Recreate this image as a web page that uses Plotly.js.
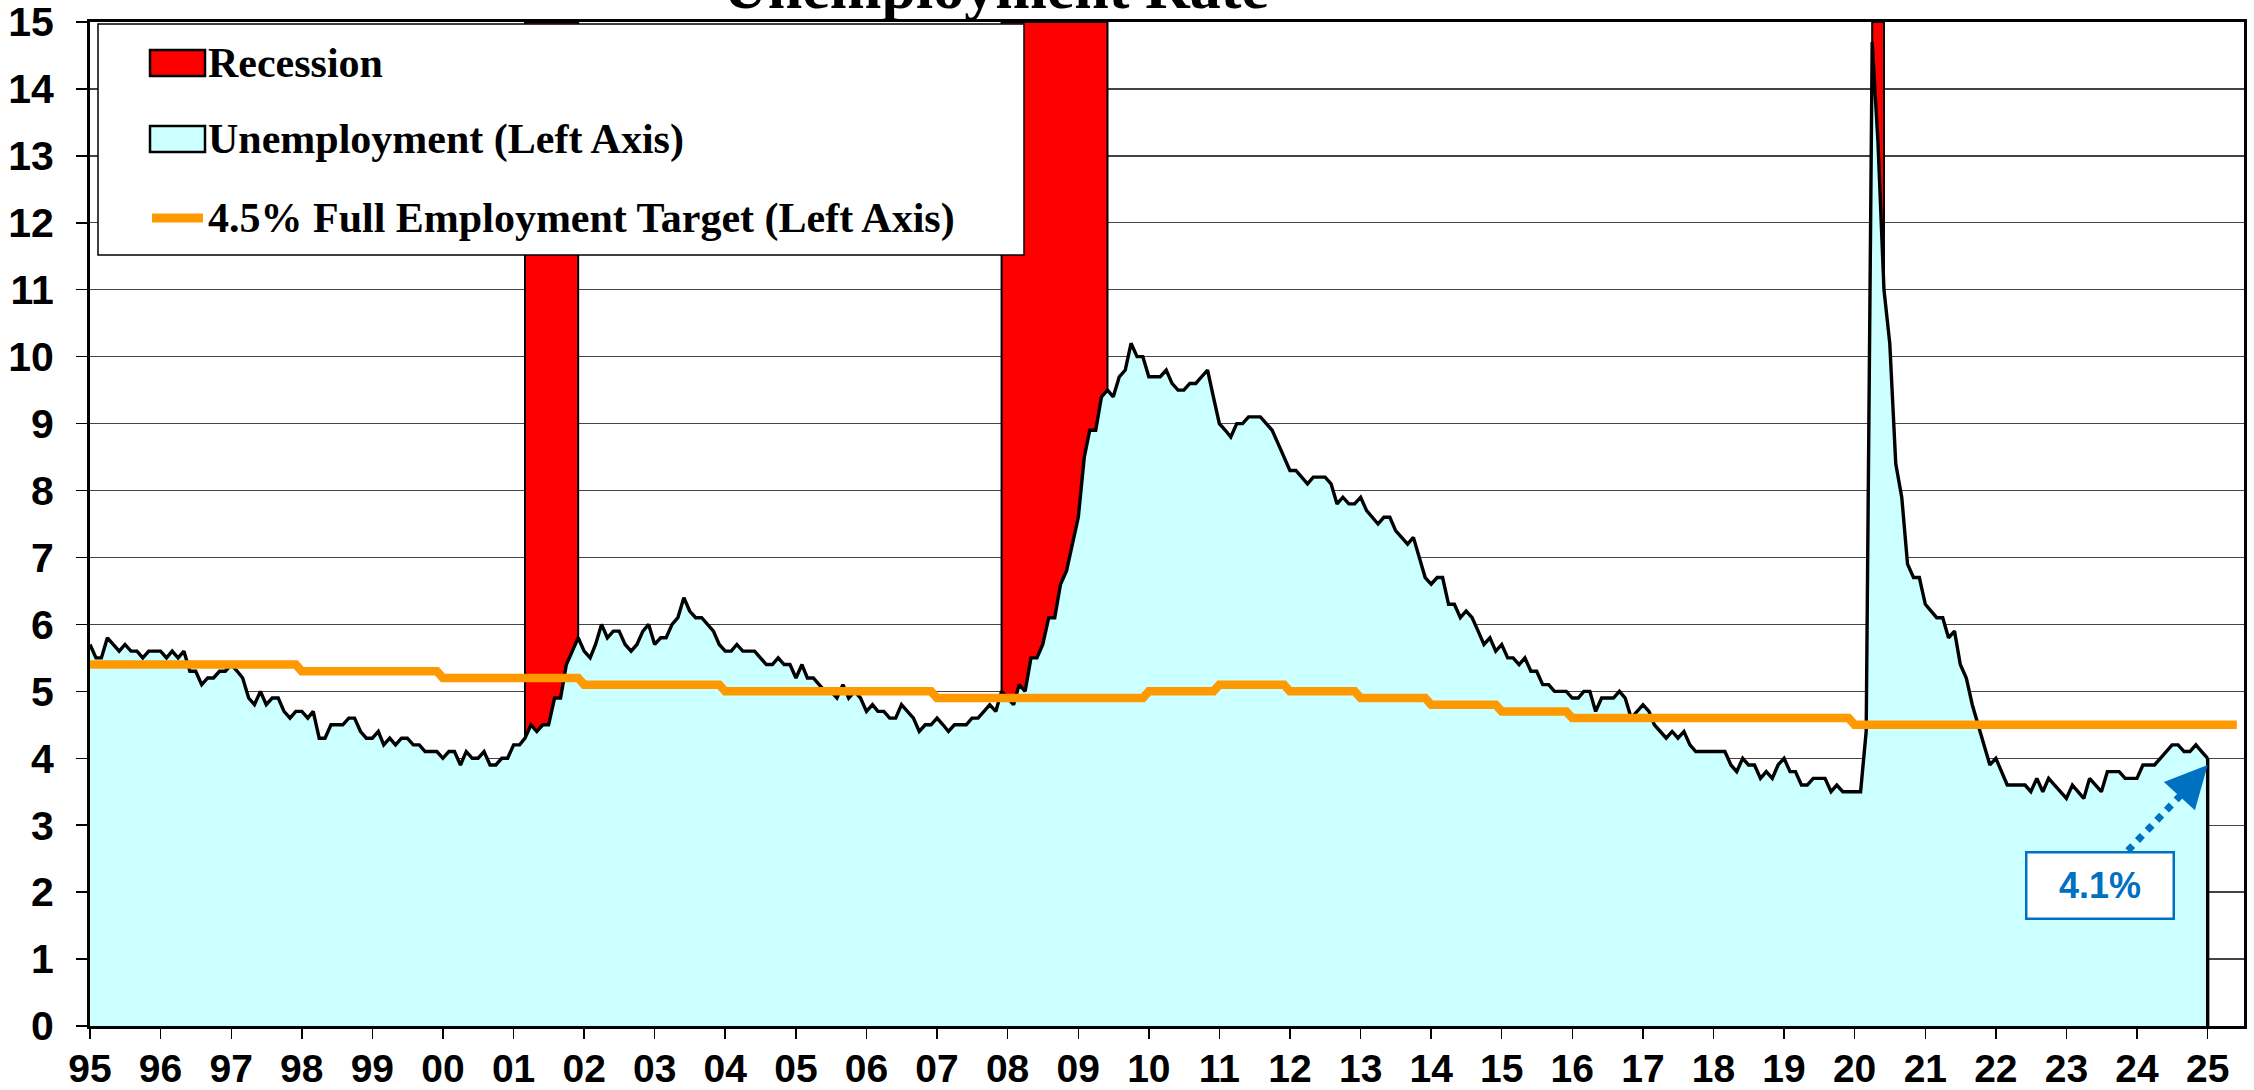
<!DOCTYPE html>
<html>
<head>
<meta charset="utf-8">
<script src="https://cdn.plot.ly/plotly-3.0.1.min.js"></script>
<style>
html,body{margin:0;padding:0;background:#ffffff;}
#chart{width:2254px;height:1090px;}
</style>
</head>
<body>
<div id="chart"></div>
<script>
// ---------------- DATA ----------------
const chartTitle = 'Unemployment Rate';
const startYear = 1995;   // first monthly observation: January 1995

// Monthly unemployment rate (%), Jan 1995 .. Jan 2025, one row per year
const unemployment = [
  5.7,5.5,5.5,5.8,5.7,5.6,5.7,5.6,5.6,5.5,5.6,5.6,   // 1995
  5.6,5.5,5.6,5.5,5.6,5.3,5.3,5.1,5.2,5.2,5.3,5.3,   // 1996
  5.4,5.3,5.2,4.9,4.8,5.0,4.8,4.9,4.9,4.7,4.6,4.7,   // 1997
  4.7,4.6,4.7,4.3,4.3,4.5,4.5,4.5,4.6,4.6,4.4,4.3,   // 1998
  4.3,4.4,4.2,4.3,4.2,4.3,4.3,4.2,4.2,4.1,4.1,4.1,   // 1999
  4.0,4.1,4.1,3.9,4.1,4.0,4.0,4.1,3.9,3.9,4.0,4.0,   // 2000
  4.2,4.2,4.3,4.5,4.4,4.5,4.5,4.9,4.9,5.4,5.6,5.8,   // 2001
  5.6,5.5,5.7,6.0,5.8,5.9,5.9,5.7,5.6,5.7,5.9,6.0,   // 2002
  5.7,5.8,5.8,6.0,6.1,6.4,6.2,6.1,6.1,6.0,5.9,5.7,   // 2003
  5.6,5.6,5.7,5.6,5.6,5.6,5.5,5.4,5.4,5.5,5.4,5.4,   // 2004
  5.2,5.4,5.2,5.2,5.1,5.0,5.0,4.9,5.1,4.9,5.0,4.9,   // 2005
  4.7,4.8,4.7,4.7,4.6,4.6,4.8,4.7,4.6,4.4,4.5,4.5,   // 2006
  4.6,4.5,4.4,4.5,4.5,4.5,4.6,4.6,4.7,4.8,4.7,5.0,   // 2007
  4.9,4.8,5.1,5.0,5.5,5.5,5.7,6.1,6.1,6.6,6.8,7.2,   // 2008
  7.6,8.5,8.9,8.9,9.4,9.5,9.4,9.7,9.8,10.2,10.0,10.0, // 2009
  9.7,9.7,9.7,9.8,9.6,9.5,9.5,9.6,9.6,9.7,9.8,9.4,   // 2010
  9.0,8.9,8.8,9.0,9.0,9.1,9.1,9.1,9.0,8.9,8.7,8.5,   // 2011
  8.3,8.3,8.2,8.1,8.2,8.2,8.2,8.1,7.8,7.9,7.8,7.8,   // 2012
  7.9,7.7,7.6,7.5,7.6,7.6,7.4,7.3,7.2,7.3,7.0,6.7,   // 2013
  6.6,6.7,6.7,6.3,6.3,6.1,6.2,6.1,5.9,5.7,5.8,5.6,   // 2014
  5.7,5.5,5.5,5.4,5.5,5.3,5.3,5.1,5.1,5.0,5.0,5.0,   // 2015
  4.9,4.9,5.0,5.0,4.7,4.9,4.9,4.9,5.0,4.9,4.6,4.7,   // 2016
  4.8,4.7,4.5,4.4,4.3,4.4,4.3,4.4,4.2,4.1,4.1,4.1,   // 2017
  4.1,4.1,4.1,3.9,3.8,4.0,3.9,3.9,3.7,3.8,3.7,3.9,   // 2018
  4.0,3.8,3.8,3.6,3.6,3.7,3.7,3.7,3.5,3.6,3.5,3.5,   // 2019
  3.5,3.5,4.4,14.7,13.2,11.0,10.2,8.4,7.9,6.9,6.7,6.7, // 2020
  6.3,6.2,6.1,6.1,5.8,5.9,5.4,5.2,4.8,4.5,4.2,3.9,   // 2021
  4.0,3.8,3.6,3.6,3.6,3.6,3.5,3.7,3.5,3.7,3.6,3.5,   // 2022
  3.4,3.6,3.5,3.4,3.7,3.6,3.5,3.8,3.8,3.8,3.7,3.7,   // 2023
  3.7,3.9,3.9,3.9,4.0,4.1,4.2,4.2,4.1,4.1,4.2,4.1,   // 2024
  4.0                                                // 2025
];

// Full-employment target (%), constant within each calendar year
const targetYears  = [1995,1996,1997,1998,1999,2000,2001,2002,2003,2004,2005,2006,2007,2008,2009,2010,
                      2011,2012,2013,2014,2015,2016,2017,2018,2019,2020,2021,2022,2023,2024,2025];
const targetValues = [5.4,5.4,5.4,5.3,5.3,5.2,5.2,5.1,5.1,5.0,5.0,5.0,4.9,4.9,4.9,5.0,
                      5.1,5.0,4.9,4.8,4.7,4.6,4.6,4.6,4.6,4.5,4.5,4.5,4.5,4.5,4.5];
const targetLastMonth = '2025-06-01';

// Recession periods
const recessionStart = ['2001-03-01','2007-12-01','2020-04-01'];
const recessionEnd   = ['2001-12-01','2009-06-01','2020-06-01'];
const recessionTop   = 15;

// x-axis ticks
const tickYears  = [1995,1996,1997,1998,1999,2000,2001,2002,2003,2004,2005,2006,2007,2008,2009,2010,
                    2011,2012,2013,2014,2015,2016,2017,2018,2019,2020,2021,2022,2023,2024,2025];
const tickLabels = ['95','96','97','98','99','00','01','02','03','04','05','06','07','08','09','10',
                    '11','12','13','14','15','16','17','18','19','20','21','22','23','24','25'];

const latestLabel = '4.1%';
const legendNames = ['Recession','Unemployment (Left Axis)','4.5% Full Employment Target (Left Axis)'];

// ---------------- BUILD ----------------
function pad2(n){ return (n < 10 ? '0' : '') + n; }
const uDates = unemployment.map((v, i) => {
  const y = startYear + Math.floor(i / 12);
  const m = (i % 12) + 1;
  return y + '-' + pad2(m) + '-01';
});

const tX = [], tY = [];
targetYears.forEach((y, k) => {
  tX.push(y + '-01-01'); tY.push(targetValues[k]);
  tX.push(k === targetYears.length - 1 ? targetLastMonth : y + '-12-01'); tY.push(targetValues[k]);
});

const recMid = [], recWidth = [], recY = [];
recessionStart.forEach((s, k) => {
  const a = Date.parse(s + 'T00:00:00Z'), b = Date.parse(recessionEnd[k] + 'T00:00:00Z');
  recMid.push(new Date((a + b) / 2).toISOString().slice(0, 19).replace('T', ' '));
  recWidth.push(b - a);
  recY.push(recessionTop);
});

const lastDate = uDates[uDates.length - 1];
const lastVal = unemployment[unemployment.length - 1];
const tickDates = tickYears.map(y => y + '-01-01');

const RED = '#FF0000', CYAN = '#CCFFFF', ORANGE = '#FF9900', BLUE = '#0070C0';

const traces = [
  {
    type: 'bar', x: recMid, y: recY, width: recWidth, name: legendNames[0],
    marker: {color: RED, line: {color: '#000000', width: 2}},
    hoverinfo: 'skip', showlegend: false
  },
  {
    type: 'scatter', mode: 'lines', x: uDates, y: unemployment, name: legendNames[1],
    fill: 'tozeroy', fillcolor: CYAN,
    line: {color: '#000000', width: 3.4}, showlegend: false
  },
  {
    type: 'scatter', mode: 'lines', x: [lastDate, lastDate], y: [lastVal, 0],
    showlegend: false, hoverinfo: 'skip',
    line: {color: '#000000', width: 3.4}
  },
  {
    type: 'scatter', mode: 'lines', x: tX, y: tY, name: legendNames[2],
    line: {color: ORANGE, width: 8.5}, showlegend: false
  }
];

const serif = 'Liberation Serif, "Times New Roman", Times, serif';
const sans = 'Liberation Sans, Arial, Helvetica, sans-serif';

// plot-area geometry (pixels) used to place the hand-drawn legend box
const PL = 90, PR = 2244, PT = 22, PB = 1026;
const px = v => (v - PL) / (PR - PL);
const py = v => (PB - v) / (PB - PT);

const legendShapes = [
  {type: 'rect', xref: 'paper', yref: 'paper', x0: px(98), x1: px(1024), y0: py(255), y1: py(24),
   fillcolor: '#ffffff', line: {color: '#000000', width: 1.5}, layer: 'above'},
  {type: 'rect', xref: 'paper', yref: 'paper', x0: px(150), x1: px(205), y0: py(76), y1: py(50),
   fillcolor: RED, line: {color: '#000000', width: 2.5}, layer: 'above'},
  {type: 'rect', xref: 'paper', yref: 'paper', x0: px(150), x1: px(205), y0: py(152), y1: py(126),
   fillcolor: CYAN, line: {color: '#000000', width: 2.5}, layer: 'above'},
  {type: 'line', xref: 'paper', yref: 'paper', x0: px(152), x1: px(203), y0: py(218), y1: py(218),
   line: {color: ORANGE, width: 9}, layer: 'above'}
];
const legendRowsY = [63, 139, 218];
const legendTexts = legendNames.map((n, k) => ({
  text: '<b>' + n + '</b>', xref: 'paper', yref: 'paper', x: px(206), y: py(legendRowsY[k]),
  xanchor: 'left', yanchor: 'middle', showarrow: false,
  font: {family: serif, size: 42, color: '#000000'}
}));

const layout = {
  width: 2254, height: 1090,
  margin: {l: PL, r: 2254 - PR, t: PT, b: 1090 - PB, pad: 0},
  paper_bgcolor: '#ffffff', plot_bgcolor: '#ffffff',
  bargap: 0,
  showlegend: false,
  xaxis: {
    type: 'date', range: ['1995-01-01', '2025-07-08'],
    tickmode: 'array', tickvals: tickDates, ticktext: tickLabels,
    ticks: 'outside', ticklen: 10, tickwidth: 1.5, tickcolor: '#000000',
    showline: true, linecolor: '#000000', linewidth: 3, mirror: true,
    showgrid: false, zeroline: false,
    tickfont: {family: sans, size: 39, color: '#000000', weight: 'bold'},
    ticklabelstandoff: -4, ticklabeloverflow: 'allow', fixedrange: true
  },
  yaxis: {
    range: [0, 15], tickmode: 'linear', tick0: 0, dtick: 1,
    ticks: 'outside', ticklen: 11, tickwidth: 1.5, tickcolor: '#000000',
    showline: true, linecolor: '#000000', linewidth: 3, mirror: true,
    showgrid: true, gridcolor: '#444444', gridwidth: 1.3, zeroline: false,
    tickfont: {family: sans, size: 41, color: '#000000', weight: 'bold'},
    ticklabelstandoff: 14, ticklabeloverflow: 'allow', fixedrange: true
  },
  shapes: [
    {type: 'line', xref: 'x', yref: 'y', x0: '2023-11-15', y0: 2.62, x1: '2024-10-10', y1: 3.62,
     line: {color: BLUE, width: 7, dash: 'dot'}}
  ].concat(legendShapes),
  annotations: [
    {text: '<b>' + chartTitle + '</b>', xref: 'paper', yref: 'paper', x: px(996), y: 1.035,
     xanchor: 'center', yanchor: 'middle', showarrow: false,
     font: {family: serif, size: 62, color: '#000000'}},
    {text: '<b>' + latestLabel + '</b>', xref: 'x', yref: 'y', x: '2023-06-22', y: 2.1,
     xanchor: 'center', yanchor: 'middle', showarrow: false,
     font: {family: sans, size: 36, color: BLUE},
     bgcolor: '#ffffff', bordercolor: BLUE, borderwidth: 2.5, width: 143, height: 62,
     align: 'center', valign: 'middle'},
    {text: '', xref: 'x', yref: 'y', x: lastDate, y: 3.9, ax: -20, ay: 22,
     showarrow: true, arrowhead: 2, arrowsize: 1.4, arrowwidth: 6, arrowcolor: BLUE, standoff: 0}
  ].concat(legendTexts)
};

Plotly.newPlot('chart', traces, layout, {displayModeBar: false, staticPlot: true});
</script>
</body>
</html>
